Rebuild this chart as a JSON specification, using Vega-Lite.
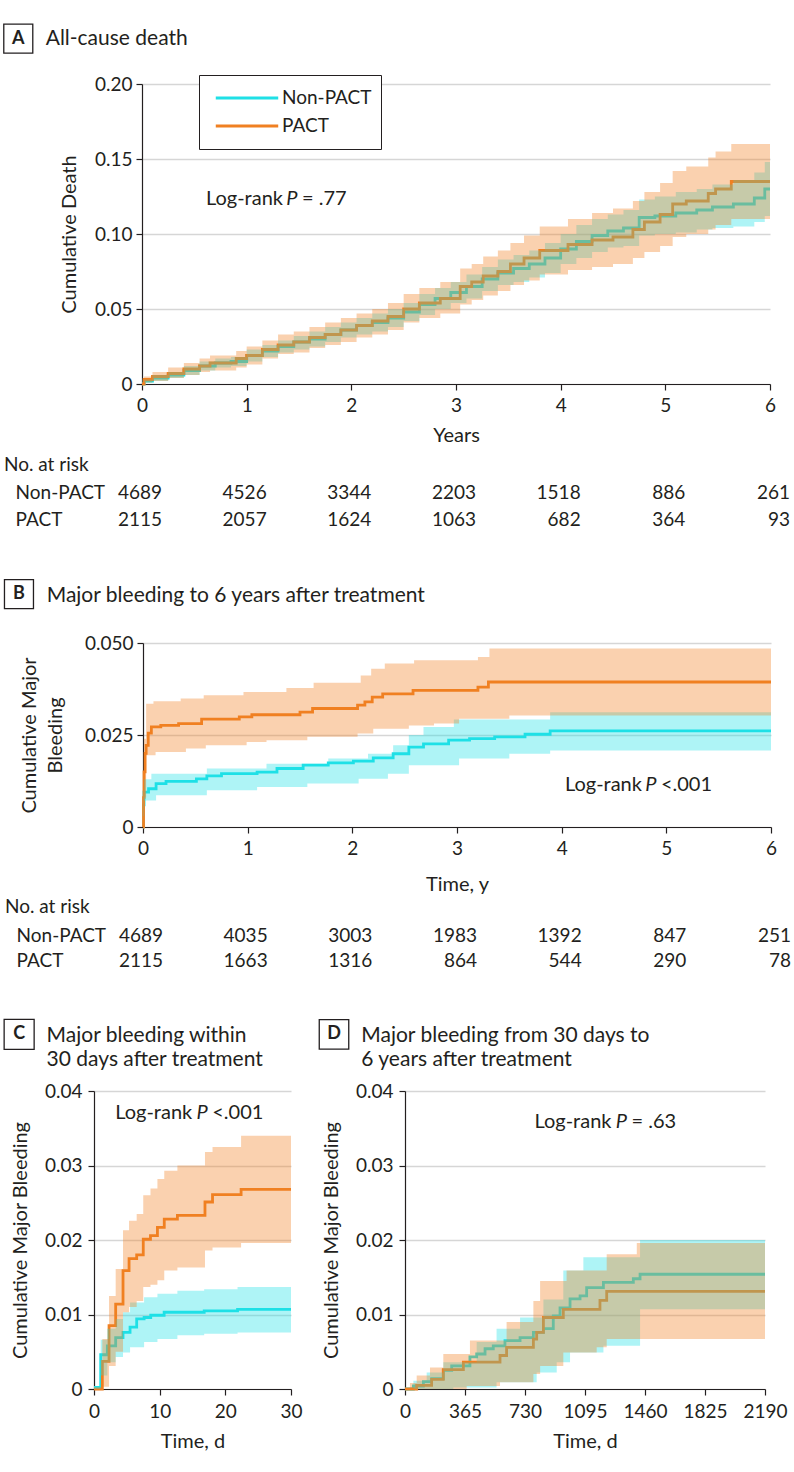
{
"$schema": "https://vega.github.io/schema/vega-lite/v6.json",
"padding": {"top": 21, "left": 0, "right": 4, "bottom": 4},
"config": {
  "font": "Lato",
  "view": {"stroke": null},
  "text": {"font": "Lato", "color": "#231f20"},
  "axis": {"labelFont": "Lato", "labelFontSize": 19, "labelColor": "#231f20", "titleFont": "Lato", "titleFontSize": 20, "titleFontWeight": "normal", "titleColor": "#231f20", "domainColor": "#231f20", "domainWidth": 1.2, "tickColor": "#231f20", "tickWidth": 1.2, "tickSize": 6, "gridColor": "#d6d6d6", "gridWidth": 1.5, "labelFlush": false, "labelOverlap": false},
  "axisX": {"grid": false},
  "axisY": {"grid": true}
},
"datasets": {
  "lines": [
    {"p":"A","g":"Non-PACT","t":0,"v":0},{"p":"A","g":"Non-PACT","t":0.02,"v":0.002},{"p":"A","g":"Non-PACT","t":0.1,"v":0.004},{"p":"A","g":"Non-PACT","t":0.25,"v":0.006},{"p":"A","g":"Non-PACT","t":0.4,"v":0.009},{"p":"A","g":"Non-PACT","t":0.55,"v":0.012},{"p":"A","g":"Non-PACT","t":0.7,"v":0.014},{"p":"A","g":"Non-PACT","t":0.85,"v":0.015},{"p":"A","g":"Non-PACT","t":1.0,"v":0.019},{"p":"A","g":"Non-PACT","t":1.15,"v":0.022},{"p":"A","g":"Non-PACT","t":1.3,"v":0.025},{"p":"A","g":"Non-PACT","t":1.45,"v":0.028},{"p":"A","g":"Non-PACT","t":1.6,"v":0.030},{"p":"A","g":"Non-PACT","t":1.75,"v":0.033},{"p":"A","g":"Non-PACT","t":1.9,"v":0.036},{"p":"A","g":"Non-PACT","t":2.05,"v":0.039},{"p":"A","g":"Non-PACT","t":2.2,"v":0.041},{"p":"A","g":"Non-PACT","t":2.35,"v":0.044},{"p":"A","g":"Non-PACT","t":2.5,"v":0.048},{"p":"A","g":"Non-PACT","t":2.65,"v":0.053},{"p":"A","g":"Non-PACT","t":2.8,"v":0.057},{"p":"A","g":"Non-PACT","t":2.95,"v":0.061},{"p":"A","g":"Non-PACT","t":3.1,"v":0.065},{"p":"A","g":"Non-PACT","t":3.25,"v":0.070},{"p":"A","g":"Non-PACT","t":3.4,"v":0.074},{"p":"A","g":"Non-PACT","t":3.55,"v":0.077},{"p":"A","g":"Non-PACT","t":3.7,"v":0.080},{"p":"A","g":"Non-PACT","t":3.85,"v":0.084},{"p":"A","g":"Non-PACT","t":4.0,"v":0.090},{"p":"A","g":"Non-PACT","t":4.15,"v":0.095},{"p":"A","g":"Non-PACT","t":4.3,"v":0.099},{"p":"A","g":"Non-PACT","t":4.45,"v":0.102},{"p":"A","g":"Non-PACT","t":4.6,"v":0.104},{"p":"A","g":"Non-PACT","t":4.75,"v":0.111},{"p":"A","g":"Non-PACT","t":4.9,"v":0.112},{"p":"A","g":"Non-PACT","t":5.1,"v":0.114},{"p":"A","g":"Non-PACT","t":5.3,"v":0.116},{"p":"A","g":"Non-PACT","t":5.45,"v":0.118},{"p":"A","g":"Non-PACT","t":5.65,"v":0.120},{"p":"A","g":"Non-PACT","t":5.85,"v":0.124},{"p":"A","g":"Non-PACT","t":5.95,"v":0.130},{"p":"A","g":"Non-PACT","t":6.0,"v":0.130},
    {"p":"A","g":"PACT","t":0,"v":0},{"p":"A","g":"PACT","t":0.02,"v":0.003},{"p":"A","g":"PACT","t":0.1,"v":0.005},{"p":"A","g":"PACT","t":0.25,"v":0.007},{"p":"A","g":"PACT","t":0.4,"v":0.010},{"p":"A","g":"PACT","t":0.55,"v":0.012},{"p":"A","g":"PACT","t":0.65,"v":0.014},{"p":"A","g":"PACT","t":0.9,"v":0.017},{"p":"A","g":"PACT","t":1.0,"v":0.019},{"p":"A","g":"PACT","t":1.15,"v":0.023},{"p":"A","g":"PACT","t":1.3,"v":0.026},{"p":"A","g":"PACT","t":1.45,"v":0.028},{"p":"A","g":"PACT","t":1.6,"v":0.031},{"p":"A","g":"PACT","t":1.75,"v":0.033},{"p":"A","g":"PACT","t":1.9,"v":0.036},{"p":"A","g":"PACT","t":2.05,"v":0.039},{"p":"A","g":"PACT","t":2.2,"v":0.042},{"p":"A","g":"PACT","t":2.35,"v":0.045},{"p":"A","g":"PACT","t":2.5,"v":0.050},{"p":"A","g":"PACT","t":2.65,"v":0.054},{"p":"A","g":"PACT","t":2.85,"v":0.057},{"p":"A","g":"PACT","t":3.04,"v":0.065},{"p":"A","g":"PACT","t":3.15,"v":0.068},{"p":"A","g":"PACT","t":3.26,"v":0.072},{"p":"A","g":"PACT","t":3.4,"v":0.075},{"p":"A","g":"PACT","t":3.52,"v":0.080},{"p":"A","g":"PACT","t":3.65,"v":0.084},{"p":"A","g":"PACT","t":3.8,"v":0.089},{"p":"A","g":"PACT","t":4.07,"v":0.093},{"p":"A","g":"PACT","t":4.3,"v":0.096},{"p":"A","g":"PACT","t":4.5,"v":0.098},{"p":"A","g":"PACT","t":4.69,"v":0.103},{"p":"A","g":"PACT","t":4.8,"v":0.108},{"p":"A","g":"PACT","t":4.95,"v":0.113},{"p":"A","g":"PACT","t":5.07,"v":0.120},{"p":"A","g":"PACT","t":5.2,"v":0.122},{"p":"A","g":"PACT","t":5.41,"v":0.127},{"p":"A","g":"PACT","t":5.48,"v":0.130},{"p":"A","g":"PACT","t":5.63,"v":0.135},{"p":"A","g":"PACT","t":6.0,"v":0.135},
    {"p":"B","g":"Non-PACT","t":0,"v":0},{"p":"B","g":"Non-PACT","t":0.005,"v":0.006},{"p":"B","g":"Non-PACT","t":0.01,"v":0.0095},{"p":"B","g":"Non-PACT","t":0.053,"v":0.0104},{"p":"B","g":"Non-PACT","t":0.125,"v":0.0118},{"p":"B","g":"Non-PACT","t":0.22,"v":0.0124},{"p":"B","g":"Non-PACT","t":0.51,"v":0.0131},{"p":"B","g":"Non-PACT","t":0.61,"v":0.0139},{"p":"B","g":"Non-PACT","t":0.75,"v":0.0145},{"p":"B","g":"Non-PACT","t":1.09,"v":0.0149},{"p":"B","g":"Non-PACT","t":1.28,"v":0.0159},{"p":"B","g":"Non-PACT","t":1.53,"v":0.0168},{"p":"B","g":"Non-PACT","t":1.77,"v":0.0174},{"p":"B","g":"Non-PACT","t":2.01,"v":0.0179},{"p":"B","g":"Non-PACT","t":2.2,"v":0.0188},{"p":"B","g":"Non-PACT","t":2.39,"v":0.0199},{"p":"B","g":"Non-PACT","t":2.54,"v":0.0217},{"p":"B","g":"Non-PACT","t":2.68,"v":0.0226},{"p":"B","g":"Non-PACT","t":2.92,"v":0.0236},{"p":"B","g":"Non-PACT","t":3.12,"v":0.024},{"p":"B","g":"Non-PACT","t":3.36,"v":0.0245},{"p":"B","g":"Non-PACT","t":3.65,"v":0.0252},{"p":"B","g":"Non-PACT","t":3.89,"v":0.0261},{"p":"B","g":"Non-PACT","t":6.0,"v":0.0261},
    {"p":"B","g":"PACT","t":0,"v":0},{"p":"B","g":"PACT","t":0.005,"v":0.008},{"p":"B","g":"PACT","t":0.01,"v":0.015},{"p":"B","g":"PACT","t":0.02,"v":0.020},{"p":"B","g":"PACT","t":0.03,"v":0.0222},{"p":"B","g":"PACT","t":0.05,"v":0.0255},{"p":"B","g":"PACT","t":0.08,"v":0.0272},{"p":"B","g":"PACT","t":0.17,"v":0.0276},{"p":"B","g":"PACT","t":0.34,"v":0.0281},{"p":"B","g":"PACT","t":0.56,"v":0.0293},{"p":"B","g":"PACT","t":0.92,"v":0.0299},{"p":"B","g":"PACT","t":1.04,"v":0.0305},{"p":"B","g":"PACT","t":1.5,"v":0.0312},{"p":"B","g":"PACT","t":1.62,"v":0.0322},{"p":"B","g":"PACT","t":2.05,"v":0.0331},{"p":"B","g":"PACT","t":2.12,"v":0.034},{"p":"B","g":"PACT","t":2.19,"v":0.0353},{"p":"B","g":"PACT","t":2.29,"v":0.0362},{"p":"B","g":"PACT","t":2.58,"v":0.0371},{"p":"B","g":"PACT","t":3.2,"v":0.038},{"p":"B","g":"PACT","t":3.3,"v":0.0394},{"p":"B","g":"PACT","t":6.0,"v":0.0394},
    {"p":"C","g":"Non-PACT","t":0,"v":0.0002},{"p":"C","g":"Non-PACT","t":1.02,"v":0.0046},{"p":"C","g":"Non-PACT","t":2.03,"v":0.0058},{"p":"C","g":"Non-PACT","t":3.3,"v":0.0069},{"p":"C","g":"Non-PACT","t":4.42,"v":0.0076},{"p":"C","g":"Non-PACT","t":5.49,"v":0.0083},{"p":"C","g":"Non-PACT","t":6.5,"v":0.0094},{"p":"C","g":"Non-PACT","t":7.63,"v":0.0096},{"p":"C","g":"Non-PACT","t":8.64,"v":0.0099},{"p":"C","g":"Non-PACT","t":10.68,"v":0.0103},{"p":"C","g":"Non-PACT","t":16.78,"v":0.0105},{"p":"C","g":"Non-PACT","t":21.86,"v":0.0107},{"p":"C","g":"Non-PACT","t":30,"v":0.0107},
    {"p":"C","g":"PACT","t":0,"v":0},{"p":"C","g":"PACT","t":1.27,"v":0.0037},{"p":"C","g":"PACT","t":2.29,"v":0.0085},{"p":"C","g":"PACT","t":3.3,"v":0.0114},{"p":"C","g":"PACT","t":4.42,"v":0.0159},{"p":"C","g":"PACT","t":5.34,"v":0.0175},{"p":"C","g":"PACT","t":6.5,"v":0.018},{"p":"C","g":"PACT","t":7.5,"v":0.0201},{"p":"C","g":"PACT","t":8.6,"v":0.0206},{"p":"C","g":"PACT","t":9.66,"v":0.0217},{"p":"C","g":"PACT","t":10.7,"v":0.0228},{"p":"C","g":"PACT","t":12.7,"v":0.0233},{"p":"C","g":"PACT","t":16.9,"v":0.0251},{"p":"C","g":"PACT","t":18.05,"v":0.0261},{"p":"C","g":"PACT","t":22.4,"v":0.0268},{"p":"C","g":"PACT","t":30,"v":0.0268},
    {"p":"D","g":"Non-PACT","t":0,"v":0},{"p":"D","g":"Non-PACT","t":51,"v":0.0004},{"p":"D","g":"Non-PACT","t":112,"v":0.001},{"p":"D","g":"Non-PACT","t":162,"v":0.0014},{"p":"D","g":"Non-PACT","t":233,"v":0.0025},{"p":"D","g":"Non-PACT","t":284,"v":0.0031},{"p":"D","g":"Non-PACT","t":395,"v":0.0043},{"p":"D","g":"Non-PACT","t":436,"v":0.0047},{"p":"D","g":"Non-PACT","t":487,"v":0.0054},{"p":"D","g":"Non-PACT","t":537,"v":0.0058},{"p":"D","g":"Non-PACT","t":608,"v":0.0065},{"p":"D","g":"Non-PACT","t":700,"v":0.0069},{"p":"D","g":"Non-PACT","t":781,"v":0.0076},{"p":"D","g":"Non-PACT","t":842,"v":0.0081},{"p":"D","g":"Non-PACT","t":902,"v":0.0098},{"p":"D","g":"Non-PACT","t":943,"v":0.0109},{"p":"D","g":"Non-PACT","t":1004,"v":0.0121},{"p":"D","g":"Non-PACT","t":1065,"v":0.0125},{"p":"D","g":"Non-PACT","t":1105,"v":0.0136},{"p":"D","g":"Non-PACT","t":1207,"v":0.0143},{"p":"D","g":"Non-PACT","t":1389,"v":0.0148},{"p":"D","g":"Non-PACT","t":1430,"v":0.0154},{"p":"D","g":"Non-PACT","t":2190,"v":0.0154},
    {"p":"D","g":"PACT","t":0,"v":0},{"p":"D","g":"PACT","t":71,"v":0.0005},{"p":"D","g":"PACT","t":162,"v":0.0013},{"p":"D","g":"PACT","t":233,"v":0.0026},{"p":"D","g":"PACT","t":355,"v":0.0036},{"p":"D","g":"PACT","t":578,"v":0.0045},{"p":"D","g":"PACT","t":618,"v":0.0056},{"p":"D","g":"PACT","t":781,"v":0.0067},{"p":"D","g":"PACT","t":801,"v":0.0076},{"p":"D","g":"PACT","t":842,"v":0.0096},{"p":"D","g":"PACT","t":963,"v":0.0107},{"p":"D","g":"PACT","t":1186,"v":0.0119},{"p":"D","g":"PACT","t":1227,"v":0.0131},{"p":"D","g":"PACT","t":2190,"v":0.0131}
  ],
  "bands": [
    {"p":"A","g":"Non-PACT","t":0,"lo":0,"hi":0},{"p":"A","g":"Non-PACT","t":0.02,"lo":0.001,"hi":0.003},{"p":"A","g":"Non-PACT","t":0.1,"lo":0.002,"hi":0.006},{"p":"A","g":"Non-PACT","t":0.25,"lo":0.004,"hi":0.008},{"p":"A","g":"Non-PACT","t":0.4,"lo":0.006,"hi":0.012},{"p":"A","g":"Non-PACT","t":0.55,"lo":0.009,"hi":0.015},{"p":"A","g":"Non-PACT","t":0.7,"lo":0.011,"hi":0.017},{"p":"A","g":"Non-PACT","t":0.85,"lo":0.012,"hi":0.018},{"p":"A","g":"Non-PACT","t":1.0,"lo":0.015,"hi":0.023},{"p":"A","g":"Non-PACT","t":1.15,"lo":0.018,"hi":0.026},{"p":"A","g":"Non-PACT","t":1.3,"lo":0.021,"hi":0.029},{"p":"A","g":"Non-PACT","t":1.45,"lo":0.023,"hi":0.032},{"p":"A","g":"Non-PACT","t":1.6,"lo":0.025,"hi":0.035},{"p":"A","g":"Non-PACT","t":1.75,"lo":0.028,"hi":0.038},{"p":"A","g":"Non-PACT","t":1.9,"lo":0.031,"hi":0.041},{"p":"A","g":"Non-PACT","t":2.05,"lo":0.033,"hi":0.044},{"p":"A","g":"Non-PACT","t":2.2,"lo":0.035,"hi":0.047},{"p":"A","g":"Non-PACT","t":2.35,"lo":0.038,"hi":0.050},{"p":"A","g":"Non-PACT","t":2.5,"lo":0.042,"hi":0.054},{"p":"A","g":"Non-PACT","t":2.65,"lo":0.046,"hi":0.060},{"p":"A","g":"Non-PACT","t":2.8,"lo":0.050,"hi":0.064},{"p":"A","g":"Non-PACT","t":2.95,"lo":0.054,"hi":0.068},{"p":"A","g":"Non-PACT","t":3.1,"lo":0.057,"hi":0.073},{"p":"A","g":"Non-PACT","t":3.25,"lo":0.062,"hi":0.078},{"p":"A","g":"Non-PACT","t":3.4,"lo":0.066,"hi":0.083},{"p":"A","g":"Non-PACT","t":3.55,"lo":0.068,"hi":0.086},{"p":"A","g":"Non-PACT","t":3.7,"lo":0.071,"hi":0.089},{"p":"A","g":"Non-PACT","t":3.85,"lo":0.074,"hi":0.094},{"p":"A","g":"Non-PACT","t":4.0,"lo":0.080,"hi":0.100},{"p":"A","g":"Non-PACT","t":4.15,"lo":0.084,"hi":0.106},{"p":"A","g":"Non-PACT","t":4.3,"lo":0.088,"hi":0.110},{"p":"A","g":"Non-PACT","t":4.45,"lo":0.091,"hi":0.113},{"p":"A","g":"Non-PACT","t":4.6,"lo":0.092,"hi":0.116},{"p":"A","g":"Non-PACT","t":4.75,"lo":0.099,"hi":0.123},{"p":"A","g":"Non-PACT","t":4.9,"lo":0.100,"hi":0.125},{"p":"A","g":"Non-PACT","t":5.1,"lo":0.101,"hi":0.128},{"p":"A","g":"Non-PACT","t":5.3,"lo":0.103,"hi":0.130},{"p":"A","g":"Non-PACT","t":5.45,"lo":0.104,"hi":0.133},{"p":"A","g":"Non-PACT","t":5.65,"lo":0.105,"hi":0.136},{"p":"A","g":"Non-PACT","t":5.85,"lo":0.108,"hi":0.141},{"p":"A","g":"Non-PACT","t":5.95,"lo":0.112,"hi":0.148},{"p":"A","g":"Non-PACT","t":6.0,"lo":0.112,"hi":0.148},
    {"p":"A","g":"PACT","t":0,"lo":0,"hi":0},{"p":"A","g":"PACT","t":0.02,"lo":0.001,"hi":0.005},{"p":"A","g":"PACT","t":0.1,"lo":0.002,"hi":0.008},{"p":"A","g":"PACT","t":0.25,"lo":0.004,"hi":0.011},{"p":"A","g":"PACT","t":0.4,"lo":0.006,"hi":0.014},{"p":"A","g":"PACT","t":0.55,"lo":0.008,"hi":0.017},{"p":"A","g":"PACT","t":0.65,"lo":0.009,"hi":0.019},{"p":"A","g":"PACT","t":0.9,"lo":0.011,"hi":0.022},{"p":"A","g":"PACT","t":1.0,"lo":0.013,"hi":0.025},{"p":"A","g":"PACT","t":1.15,"lo":0.017,"hi":0.029},{"p":"A","g":"PACT","t":1.3,"lo":0.020,"hi":0.033},{"p":"A","g":"PACT","t":1.45,"lo":0.021,"hi":0.035},{"p":"A","g":"PACT","t":1.6,"lo":0.024,"hi":0.038},{"p":"A","g":"PACT","t":1.75,"lo":0.026,"hi":0.041},{"p":"A","g":"PACT","t":1.9,"lo":0.028,"hi":0.044},{"p":"A","g":"PACT","t":2.05,"lo":0.031,"hi":0.047},{"p":"A","g":"PACT","t":2.2,"lo":0.033,"hi":0.050},{"p":"A","g":"PACT","t":2.35,"lo":0.036,"hi":0.054},{"p":"A","g":"PACT","t":2.5,"lo":0.041,"hi":0.060},{"p":"A","g":"PACT","t":2.65,"lo":0.044,"hi":0.064},{"p":"A","g":"PACT","t":2.85,"lo":0.047,"hi":0.068},{"p":"A","g":"PACT","t":3.04,"lo":0.053,"hi":0.077},{"p":"A","g":"PACT","t":3.15,"lo":0.056,"hi":0.080},{"p":"A","g":"PACT","t":3.26,"lo":0.059,"hi":0.085},{"p":"A","g":"PACT","t":3.4,"lo":0.062,"hi":0.089},{"p":"A","g":"PACT","t":3.52,"lo":0.066,"hi":0.094},{"p":"A","g":"PACT","t":3.65,"lo":0.069,"hi":0.099},{"p":"A","g":"PACT","t":3.8,"lo":0.073,"hi":0.105},{"p":"A","g":"PACT","t":4.07,"lo":0.076,"hi":0.110},{"p":"A","g":"PACT","t":4.3,"lo":0.078,"hi":0.114},{"p":"A","g":"PACT","t":4.5,"lo":0.080,"hi":0.117},{"p":"A","g":"PACT","t":4.69,"lo":0.084,"hi":0.122},{"p":"A","g":"PACT","t":4.8,"lo":0.088,"hi":0.128},{"p":"A","g":"PACT","t":4.95,"lo":0.092,"hi":0.134},{"p":"A","g":"PACT","t":5.07,"lo":0.098,"hi":0.142},{"p":"A","g":"PACT","t":5.2,"lo":0.100,"hi":0.145},{"p":"A","g":"PACT","t":5.41,"lo":0.103,"hi":0.151},{"p":"A","g":"PACT","t":5.48,"lo":0.106,"hi":0.155},{"p":"A","g":"PACT","t":5.63,"lo":0.110,"hi":0.160},{"p":"A","g":"PACT","t":6.0,"lo":0.110,"hi":0.160},
    {"p":"B","g":"Non-PACT","t":0,"lo":0,"hi":0},{"p":"B","g":"Non-PACT","t":0.005,"lo":0.003,"hi":0.01},{"p":"B","g":"Non-PACT","t":0.01,"lo":0.0072,"hi":0.013},{"p":"B","g":"Non-PACT","t":0.08,"lo":0.0072,"hi":0.0145},{"p":"B","g":"Non-PACT","t":0.125,"lo":0.0086,"hi":0.0145},{"p":"B","g":"Non-PACT","t":0.61,"lo":0.01,"hi":0.0159},{"p":"B","g":"Non-PACT","t":1.09,"lo":0.0109,"hi":0.0159},{"p":"B","g":"Non-PACT","t":1.18,"lo":0.0109,"hi":0.0172},{"p":"B","g":"Non-PACT","t":1.57,"lo":0.0118,"hi":0.0172},{"p":"B","g":"Non-PACT","t":1.77,"lo":0.0118,"hi":0.0186},{"p":"B","g":"Non-PACT","t":2.06,"lo":0.0131,"hi":0.0186},{"p":"B","g":"Non-PACT","t":2.15,"lo":0.0131,"hi":0.0199},{"p":"B","g":"Non-PACT","t":2.34,"lo":0.0145,"hi":0.0199},{"p":"B","g":"Non-PACT","t":2.39,"lo":0.0145,"hi":0.0222},{"p":"B","g":"Non-PACT","t":2.54,"lo":0.0168,"hi":0.025},{"p":"B","g":"Non-PACT","t":2.68,"lo":0.0168,"hi":0.0272},{"p":"B","g":"Non-PACT","t":2.97,"lo":0.0168,"hi":0.0292},{"p":"B","g":"Non-PACT","t":3.02,"lo":0.0186,"hi":0.0292},{"p":"B","g":"Non-PACT","t":3.5,"lo":0.0199,"hi":0.0292},{"p":"B","g":"Non-PACT","t":3.89,"lo":0.0208,"hi":0.0312},{"p":"B","g":"Non-PACT","t":6.0,"lo":0.0208,"hi":0.0312},
    {"p":"B","g":"PACT","t":0,"lo":0,"hi":0},{"p":"B","g":"PACT","t":0.01,"lo":0.008,"hi":0.024},{"p":"B","g":"PACT","t":0.03,"lo":0.0195,"hi":0.0335},{"p":"B","g":"PACT","t":0.1,"lo":0.0195,"hi":0.0342},{"p":"B","g":"PACT","t":0.12,"lo":0.0204,"hi":0.0342},{"p":"B","g":"PACT","t":0.36,"lo":0.0204,"hi":0.0349},{"p":"B","g":"PACT","t":0.41,"lo":0.0213,"hi":0.0349},{"p":"B","g":"PACT","t":0.58,"lo":0.0213,"hi":0.0358},{"p":"B","g":"PACT","t":0.6,"lo":0.0222,"hi":0.0358},{"p":"B","g":"PACT","t":0.96,"lo":0.0222,"hi":0.0367},{"p":"B","g":"PACT","t":0.99,"lo":0.0231,"hi":0.0367},{"p":"B","g":"PACT","t":1.18,"lo":0.0236,"hi":0.0367},{"p":"B","g":"PACT","t":1.37,"lo":0.0236,"hi":0.0378},{"p":"B","g":"PACT","t":1.57,"lo":0.0245,"hi":0.0378},{"p":"B","g":"PACT","t":1.63,"lo":0.0245,"hi":0.0392},{"p":"B","g":"PACT","t":2.05,"lo":0.0254,"hi":0.0392},{"p":"B","g":"PACT","t":2.08,"lo":0.0254,"hi":0.0412},{"p":"B","g":"PACT","t":2.18,"lo":0.0254,"hi":0.043},{"p":"B","g":"PACT","t":2.2,"lo":0.0267,"hi":0.043},{"p":"B","g":"PACT","t":2.31,"lo":0.0267,"hi":0.0444},{"p":"B","g":"PACT","t":2.54,"lo":0.0276,"hi":0.0444},{"p":"B","g":"PACT","t":2.59,"lo":0.0276,"hi":0.0453},{"p":"B","g":"PACT","t":2.78,"lo":0.0281,"hi":0.0453},{"p":"B","g":"PACT","t":3.02,"lo":0.0294,"hi":0.0453},{"p":"B","g":"PACT","t":3.2,"lo":0.0294,"hi":0.0462},{"p":"B","g":"PACT","t":3.31,"lo":0.0294,"hi":0.0485},{"p":"B","g":"PACT","t":3.5,"lo":0.0303,"hi":0.0485},{"p":"B","g":"PACT","t":6.0,"lo":0.0303,"hi":0.0485},
    {"p":"C","g":"Non-PACT","t":0,"lo":0,"hi":0.0004},{"p":"C","g":"Non-PACT","t":1.02,"lo":0.0018,"hi":0.0066},{"p":"C","g":"Non-PACT","t":2.03,"lo":0.0036,"hi":0.0081},{"p":"C","g":"Non-PACT","t":3.3,"lo":0.0043,"hi":0.0094},{"p":"C","g":"Non-PACT","t":4.42,"lo":0.0049,"hi":0.0103},{"p":"C","g":"Non-PACT","t":5.49,"lo":0.0056,"hi":0.0116},{"p":"C","g":"Non-PACT","t":7.63,"lo":0.0063,"hi":0.0123},{"p":"C","g":"Non-PACT","t":9.66,"lo":0.0067,"hi":0.0128},{"p":"C","g":"Non-PACT","t":12.7,"lo":0.0072,"hi":0.0132},{"p":"C","g":"Non-PACT","t":16.78,"lo":0.0074,"hi":0.0134},{"p":"C","g":"Non-PACT","t":21.86,"lo":0.0076,"hi":0.0137},{"p":"C","g":"Non-PACT","t":30,"lo":0.0076,"hi":0.0137},
    {"p":"C","g":"PACT","t":0,"lo":0,"hi":0},{"p":"C","g":"PACT","t":1.27,"lo":0.0003,"hi":0.0067},{"p":"C","g":"PACT","t":2.29,"lo":0.0031,"hi":0.0125},{"p":"C","g":"PACT","t":3.3,"lo":0.005,"hi":0.0161},{"p":"C","g":"PACT","t":4.42,"lo":0.0103,"hi":0.0213},{"p":"C","g":"PACT","t":5.34,"lo":0.011,"hi":0.0226},{"p":"C","g":"PACT","t":6.5,"lo":0.0118,"hi":0.0235},{"p":"C","g":"PACT","t":7.5,"lo":0.0137,"hi":0.026},{"p":"C","g":"PACT","t":8.6,"lo":0.014,"hi":0.0269},{"p":"C","g":"PACT","t":9.66,"lo":0.0146,"hi":0.0282},{"p":"C","g":"PACT","t":10.7,"lo":0.0159,"hi":0.0293},{"p":"C","g":"PACT","t":12.7,"lo":0.0163,"hi":0.030},{"p":"C","g":"PACT","t":16.9,"lo":0.0186,"hi":0.0318},{"p":"C","g":"PACT","t":18.05,"lo":0.019,"hi":0.0325},{"p":"C","g":"PACT","t":22.4,"lo":0.0196,"hi":0.034},{"p":"C","g":"PACT","t":30,"lo":0.0196,"hi":0.034},
    {"p":"D","g":"Non-PACT","t":0,"lo":0,"hi":0},{"p":"D","g":"Non-PACT","t":51,"lo":0,"hi":0.0011},{"p":"D","g":"Non-PACT","t":132,"lo":0,"hi":0.0022},{"p":"D","g":"Non-PACT","t":233,"lo":0,"hi":0.0036},{"p":"D","g":"Non-PACT","t":294,"lo":0.0002,"hi":0.0036},{"p":"D","g":"Non-PACT","t":436,"lo":0.0002,"hi":0.0063},{"p":"D","g":"Non-PACT","t":557,"lo":0.0009,"hi":0.0081},{"p":"D","g":"Non-PACT","t":700,"lo":0.0009,"hi":0.0096},{"p":"D","g":"Non-PACT","t":801,"lo":0.0022,"hi":0.0096},{"p":"D","g":"Non-PACT","t":842,"lo":0.0022,"hi":0.012},{"p":"D","g":"Non-PACT","t":923,"lo":0.0036,"hi":0.012},{"p":"D","g":"Non-PACT","t":963,"lo":0.0036,"hi":0.0159},{"p":"D","g":"Non-PACT","t":1004,"lo":0.0049,"hi":0.0159},{"p":"D","g":"Non-PACT","t":1085,"lo":0.0049,"hi":0.0177},{"p":"D","g":"Non-PACT","t":1207,"lo":0.0058,"hi":0.0177},{"p":"D","g":"Non-PACT","t":1430,"lo":0.0107,"hi":0.02},{"p":"D","g":"Non-PACT","t":2190,"lo":0.0107,"hi":0.02},
    {"p":"D","g":"PACT","t":0,"lo":0,"hi":0},{"p":"D","g":"PACT","t":30,"lo":0,"hi":0.0008},{"p":"D","g":"PACT","t":71,"lo":0,"hi":0.0018},{"p":"D","g":"PACT","t":152,"lo":0,"hi":0.0029},{"p":"D","g":"PACT","t":233,"lo":0,"hi":0.0047},{"p":"D","g":"PACT","t":375,"lo":0.0004,"hi":0.0047},{"p":"D","g":"PACT","t":395,"lo":0.0004,"hi":0.0065},{"p":"D","g":"PACT","t":578,"lo":0.0009,"hi":0.0065},{"p":"D","g":"PACT","t":618,"lo":0.0009,"hi":0.009},{"p":"D","g":"PACT","t":781,"lo":0.002,"hi":0.0118},{"p":"D","g":"PACT","t":822,"lo":0.0031,"hi":0.0145},{"p":"D","g":"PACT","t":963,"lo":0.0049,"hi":0.0145},{"p":"D","g":"PACT","t":983,"lo":0.0049,"hi":0.0159},{"p":"D","g":"PACT","t":1166,"lo":0.0056,"hi":0.0159},{"p":"D","g":"PACT","t":1227,"lo":0.0067,"hi":0.0181},{"p":"D","g":"PACT","t":1410,"lo":0.0067,"hi":0.0196},{"p":"D","g":"PACT","t":2190,"lo":0.0067,"hi":0.0196}
  ],
  "risk": [
    {"p":"A","g":"Non-PACT","t":0,"n":4689},{"p":"A","g":"Non-PACT","t":1,"n":4526},{"p":"A","g":"Non-PACT","t":2,"n":3344},{"p":"A","g":"Non-PACT","t":3,"n":2203},{"p":"A","g":"Non-PACT","t":4,"n":1518},{"p":"A","g":"Non-PACT","t":5,"n":886},{"p":"A","g":"Non-PACT","t":6,"n":261},
    {"p":"A","g":"PACT","t":0,"n":2115},{"p":"A","g":"PACT","t":1,"n":2057},{"p":"A","g":"PACT","t":2,"n":1624},{"p":"A","g":"PACT","t":3,"n":1063},{"p":"A","g":"PACT","t":4,"n":682},{"p":"A","g":"PACT","t":5,"n":364},{"p":"A","g":"PACT","t":6,"n":93},
    {"p":"B","g":"Non-PACT","t":0,"n":4689},{"p":"B","g":"Non-PACT","t":1,"n":4035},{"p":"B","g":"Non-PACT","t":2,"n":3003},{"p":"B","g":"Non-PACT","t":3,"n":1983},{"p":"B","g":"Non-PACT","t":4,"n":1392},{"p":"B","g":"Non-PACT","t":5,"n":847},{"p":"B","g":"Non-PACT","t":6,"n":251},
    {"p":"B","g":"PACT","t":0,"n":2115},{"p":"B","g":"PACT","t":1,"n":1663},{"p":"B","g":"PACT","t":2,"n":1316},{"p":"B","g":"PACT","t":3,"n":864},{"p":"B","g":"PACT","t":4,"n":544},{"p":"B","g":"PACT","t":5,"n":290},{"p":"B","g":"PACT","t":6,"n":78}
  ]
},
"resolve": {"scale": {"color": "independent"}, "legend": {"color": "independent"}},
"spacing": 45,
"vconcat": [
 {
  "resolve": {"scale": {"color": "independent"}, "legend": {"color": "independent"}},
  "spacing": 0,
  "hconcat": [
   {"width": 1, "height": 1, "data": {"values": [{}]}, "mark": {"type": "text", "text": ""}},
   {
    "width": 628, "height": 300,
    "layer": [
     {"data": {"name": "lines"}, "transform": [{"filter": "datum.p === 'A'"}],
      "mark": {"type": "line", "interpolate": "step-after", "strokeWidth": 2.8},
      "encoding": {
        "x": {"field": "t", "type": "quantitative", "scale": {"domain": [0, 6], "nice": false, "zero": false}, "axis": {"values": [0,1,2,3,4,5,6], "format": "d", "title": "Years", "labelPadding": 6, "titlePadding": 10}},
        "y": {"field": "v", "type": "quantitative", "scale": {"domain": [0, 0.2], "nice": false}, "axis": {"values": [0,0.05,0.1,0.15,0.2], "labelExpr": "datum.value === 0 ? '0' : format(datum.value, '.2f')", "title": "Cumulative Death", "labelPadding": 4, "titlePadding": 15}},
        "color": {"field": "g", "type": "nominal", "scale": {"domain": ["Non-PACT","PACT"], "range": ["#1FE0E6","#F08022"]},
          "legend": {"orient": "none", "legendX": 57, "legendY": -9, "title": null, "symbolType": "stroke", "symbolSize": 3900, "symbolStrokeWidth": 3, "symbolOpacity": 1, "clipHeight": 28, "rowPadding": 0, "padding": 9, "symbolOffset": 6, "labelOffset": 2, "labelFontSize": 19, "labelFont": "Lato", "labelColor": "#231f20", "strokeColor": "#231f20", "fillColor": "white",
            "encode": {"symbols": {"update": {"opacity": {"value": 1}, "strokeOpacity": {"value": 1}, "fillOpacity": {"value": 0}}}}}}
      }},
     {"data": {"name": "bands"}, "transform": [{"filter": "datum.p === 'A'"}],
      "mark": {"type": "area", "interpolate": "step-after", "opacity": 0.36},
      "encoding": {"x": {"field": "t", "type": "quantitative"}, "y": {"field": "lo", "type": "quantitative"}, "y2": {"field": "hi"}, "color": {"field": "g", "type": "nominal", "scale": {"domain": ["Non-PACT","PACT"], "range": ["#1FE0E6","#F08022"]}}}},
     {"data": {"values": [{}]}, "mark": {"type": "point", "shape": "square", "size": 841, "filled": false, "color": "#231f20", "strokeWidth": 1.3, "opacity": 1}, "encoding": {"x": {"datum": -1.182}, "y": {"datum": 0.2302}}},
     {"data": {"values": [{}]}, "mark": {"type": "text", "text": "A", "fontWeight": "bold", "fontSize": 18, "align": "center", "baseline": "middle"}, "encoding": {"x": {"datum": -1.182}, "y": {"datum": 0.2302}}},
     {"data": {"values": [{}]}, "mark": {"type": "text", "text": "All-cause death", "fontSize": 21, "align": "left", "baseline": "middle"}, "encoding": {"x": {"datum": -0.92}, "y": {"datum": 0.2297}}},
     {"data": {"values": [{}]}, "mark": {"type": "text", "text": "Log-rank", "fontSize": 20, "align": "right", "baseline": "middle", "dx": -9}, "encoding": {"x": {"datum": 1.433}, "y": {"datum": 0.1233}}},
     {"data": {"values": [{}]}, "mark": {"type": "text", "text": "P", "fontSize": 20, "fontStyle": "italic", "align": "center", "baseline": "middle"}, "encoding": {"x": {"datum": 1.433}, "y": {"datum": 0.1233}}},
     {"data": {"values": [{}]}, "mark": {"type": "text", "text": "= .77", "fontSize": 20, "align": "left", "baseline": "middle", "dx": 10}, "encoding": {"x": {"datum": 1.433}, "y": {"datum": 0.1233}}},
     {"data": {"values": [{}]}, "mark": {"type": "text", "text": "No. at risk", "fontSize": 19, "align": "left", "baseline": "middle"}, "encoding": {"x": {"datum": -1.319}, "y": {"datum": -0.054}}},
     {"data": {"values": [{}]}, "mark": {"type": "text", "text": "Non-PACT", "fontSize": 19, "align": "left", "baseline": "middle"}, "encoding": {"x": {"datum": -1.208}, "y": {"datum": -0.0729}}},
     {"data": {"values": [{}]}, "mark": {"type": "text", "text": "PACT", "fontSize": 19, "align": "left", "baseline": "middle"}, "encoding": {"x": {"datum": -1.208}, "y": {"datum": -0.0907}}},
     {"data": {"name": "risk"}, "transform": [{"filter": "datum.p === 'A' && datum.g === 'Non-PACT'"}], "mark": {"type": "text", "fontSize": 19, "align": "right", "baseline": "middle", "dx": 20}, "encoding": {"x": {"field": "t", "type": "quantitative"}, "y": {"datum": -0.0729}, "text": {"field": "n", "type": "quantitative", "format": "d"}}},
     {"data": {"name": "risk"}, "transform": [{"filter": "datum.p === 'A' && datum.g === 'PACT'"}], "mark": {"type": "text", "fontSize": 19, "align": "right", "baseline": "middle", "dx": 20}, "encoding": {"x": {"field": "t", "type": "quantitative"}, "y": {"datum": -0.0907}, "text": {"field": "n", "type": "quantitative", "format": "d"}}}
    ]
   }
  ]
 },
 {
  "resolve": {"scale": {"color": "independent"}, "legend": {"color": "independent"}},
  "spacing": 0,
  "hconcat": [
   {"width": 1, "height": 1, "data": {"values": [{}]}, "mark": {"type": "text", "text": ""}},
   {
    "width": 628, "height": 184,
    "layer": [
     {"data": {"name": "lines"}, "transform": [{"filter": "datum.p === 'B'"}],
      "mark": {"type": "line", "interpolate": "step-after", "strokeWidth": 2.8},
      "encoding": {
        "x": {"field": "t", "type": "quantitative", "scale": {"domain": [0, 6], "nice": false, "zero": false}, "axis": {"values": [0,1,2,3,4,5,6], "format": "d", "title": "Time, y", "labelPadding": 6, "titlePadding": 16}},
        "y": {"field": "v", "type": "quantitative", "scale": {"domain": [0, 0.05], "nice": false}, "axis": {"values": [0,0.025,0.05], "labelExpr": "datum.value === 0 ? '0' : format(datum.value, '.3f')", "title": ["Cumulative Major", "Bleeding"], "titleLineHeight": 26, "labelPadding": 4, "titlePadding": 19}},
        "color": {"field": "g", "type": "nominal", "scale": {"domain": ["Non-PACT","PACT"], "range": ["#1FE0E6","#F08022"]}, "legend": null}
      }},
     {"data": {"name": "bands"}, "transform": [{"filter": "datum.p === 'B'"}],
      "mark": {"type": "area", "interpolate": "step-after", "opacity": 0.36},
      "encoding": {"x": {"field": "t", "type": "quantitative"}, "y": {"field": "lo", "type": "quantitative"}, "y2": {"field": "hi"}, "color": {"field": "g", "type": "nominal", "scale": {"domain": ["Non-PACT","PACT"], "range": ["#1FE0E6","#F08022"]}, "legend": null}}},
     {"data": {"values": [{}]}, "mark": {"type": "point", "shape": "square", "size": 841, "filled": false, "color": "#231f20", "strokeWidth": 1.3, "opacity": 1}, "encoding": {"x": {"datum": -1.185}, "y": {"datum": 0.0633}}},
     {"data": {"values": [{}]}, "mark": {"type": "text", "text": "B", "fontWeight": "bold", "fontSize": 18, "align": "center", "baseline": "middle"}, "encoding": {"x": {"datum": -1.185}, "y": {"datum": 0.0633}}},
     {"data": {"values": [{}]}, "mark": {"type": "text", "text": "Major bleeding to 6 years after treatment", "fontSize": 21, "align": "left", "baseline": "middle"}, "encoding": {"x": {"datum": -0.92}, "y": {"datum": 0.0628}}},
     {"data": {"values": [{}]}, "mark": {"type": "text", "text": "Log-rank", "fontSize": 20, "align": "right", "baseline": "middle", "dx": -9}, "encoding": {"x": {"datum": 4.853}, "y": {"datum": 0.0114}}},
     {"data": {"values": [{}]}, "mark": {"type": "text", "text": "P", "fontSize": 20, "fontStyle": "italic", "align": "center", "baseline": "middle"}, "encoding": {"x": {"datum": 4.853}, "y": {"datum": 0.0114}}},
     {"data": {"values": [{}]}, "mark": {"type": "text", "text": "<.001", "fontSize": 20, "align": "left", "baseline": "middle", "dx": 10}, "encoding": {"x": {"datum": 4.853}, "y": {"datum": 0.0114}}},
     {"data": {"values": [{}]}, "mark": {"type": "text", "text": "No. at risk", "fontSize": 19, "align": "left", "baseline": "middle"}, "encoding": {"x": {"datum": -1.319}, "y": {"datum": -0.02174}}},
     {"data": {"values": [{}]}, "mark": {"type": "text", "text": "Non-PACT", "fontSize": 19, "align": "left", "baseline": "middle"}, "encoding": {"x": {"datum": -1.208}, "y": {"datum": -0.02962}}},
     {"data": {"values": [{}]}, "mark": {"type": "text", "text": "PACT", "fontSize": 19, "align": "left", "baseline": "middle"}, "encoding": {"x": {"datum": -1.208}, "y": {"datum": -0.03641}}},
     {"data": {"name": "risk"}, "transform": [{"filter": "datum.p === 'B' && datum.g === 'Non-PACT'"}], "mark": {"type": "text", "fontSize": 19, "align": "right", "baseline": "middle", "dx": 20}, "encoding": {"x": {"field": "t", "type": "quantitative"}, "y": {"datum": -0.02962}, "text": {"field": "n", "type": "quantitative", "format": "d"}}},
     {"data": {"name": "risk"}, "transform": [{"filter": "datum.p === 'B' && datum.g === 'PACT'"}], "mark": {"type": "text", "fontSize": 19, "align": "right", "baseline": "middle", "dx": 20}, "encoding": {"x": {"field": "t", "type": "quantitative"}, "y": {"datum": -0.03641}, "text": {"field": "n", "type": "quantitative", "format": "d"}}}
    ]
   }
  ]
 },
 {
  "resolve": {"scale": {"color": "independent"}, "legend": {"color": "independent"}},
  "spacing": 0,
  "hconcat": [
   {"width": 1, "height": 1, "data": {"values": [{}]}, "mark": {"type": "text", "text": ""}},
   {
  "resolve": {"scale": {"color": "independent"}, "legend": {"color": "independent"}},
  "spacing": 13,
  "hconcat": [
   {
    "width": 197, "height": 298,
    "layer": [
     {"data": {"name": "lines"}, "transform": [{"filter": "datum.p === 'C'"}],
      "mark": {"type": "line", "interpolate": "step-after", "strokeWidth": 2.8},
      "encoding": {
        "x": {"field": "t", "type": "quantitative", "scale": {"domain": [0, 30], "nice": false, "zero": false}, "axis": {"values": [0,10,20,30], "title": "Time, d", "labelPadding": 7, "titlePadding": 10}},
        "y": {"field": "v", "type": "quantitative", "scale": {"domain": [0, 0.04], "nice": false}, "axis": {"values": [0,0.01,0.02,0.03,0.04], "labelExpr": "datum.value === 0 ? '0' : format(datum.value, '.2f')", "title": "Cumulative Major Bleeding", "labelPadding": 6, "titlePadding": 14}},
        "color": {"field": "g", "type": "nominal", "scale": {"domain": ["Non-PACT","PACT"], "range": ["#1FE0E6","#F08022"]}, "legend": null}
      }},
     {"data": {"name": "bands"}, "transform": [{"filter": "datum.p === 'C'"}],
      "mark": {"type": "area", "interpolate": "step-after", "opacity": 0.36},
      "encoding": {"x": {"field": "t", "type": "quantitative"}, "y": {"field": "lo", "type": "quantitative"}, "y2": {"field": "hi"}, "color": {"field": "g", "type": "nominal", "scale": {"domain": ["Non-PACT","PACT"], "range": ["#1FE0E6","#F08022"]}, "legend": null}}},
     {"data": {"values": [{}]}, "mark": {"type": "point", "shape": "square", "size": 900, "filled": false, "color": "#231f20", "strokeWidth": 1.3, "opacity": 1}, "encoding": {"x": {"datum": -11.4}, "y": {"datum": 0.0476}}},
     {"data": {"values": [{}]}, "mark": {"type": "text", "text": "C", "fontWeight": "bold", "fontSize": 18, "align": "center", "baseline": "middle"}, "encoding": {"x": {"datum": -11.4}, "y": {"datum": 0.0476}}},
     {"data": {"values": [{}]}, "mark": {"type": "text", "text": "Major bleeding within", "fontSize": 21, "align": "left", "baseline": "middle"}, "encoding": {"x": {"datum": -7.22}, "y": {"datum": 0.0474}}},
     {"data": {"values": [{}]}, "mark": {"type": "text", "text": "30 days after treatment", "fontSize": 21, "align": "left", "baseline": "middle"}, "encoding": {"x": {"datum": -7.22}, "y": {"datum": 0.0442}}},
     {"data": {"values": [{}]}, "mark": {"type": "text", "text": "Log-rank", "fontSize": 20, "align": "right", "baseline": "middle", "dx": -10}, "encoding": {"x": {"datum": 16.48}, "y": {"datum": 0.0371}}},
     {"data": {"values": [{}]}, "mark": {"type": "text", "text": "P", "fontSize": 20, "fontStyle": "italic", "align": "center", "baseline": "middle"}, "encoding": {"x": {"datum": 16.48}, "y": {"datum": 0.0371}}},
     {"data": {"values": [{}]}, "mark": {"type": "text", "text": "<.001", "fontSize": 20, "align": "left", "baseline": "middle", "dx": 10}, "encoding": {"x": {"datum": 16.48}, "y": {"datum": 0.0371}}}
    ]
   },
   {
    "width": 360, "height": 298,
    "layer": [
     {"data": {"name": "lines"}, "transform": [{"filter": "datum.p === 'D'"}],
      "mark": {"type": "line", "interpolate": "step-after", "strokeWidth": 2.8},
      "encoding": {
        "x": {"field": "t", "type": "quantitative", "scale": {"domain": [0, 2190], "nice": false, "zero": false}, "axis": {"values": [0,365,730,1095,1460,1825,2190], "format": "d", "title": "Time, d", "labelPadding": 7, "titlePadding": 10}},
        "y": {"field": "v", "type": "quantitative", "scale": {"domain": [0, 0.04], "nice": false}, "axis": {"values": [0,0.01,0.02,0.03,0.04], "labelExpr": "datum.value === 0 ? '0' : format(datum.value, '.2f')", "title": "Cumulative Major Bleeding", "labelPadding": 6, "titlePadding": 14}},
        "color": {"field": "g", "type": "nominal", "scale": {"domain": ["Non-PACT","PACT"], "range": ["#1FE0E6","#F08022"]}, "legend": null}
      }},
     {"data": {"name": "bands"}, "transform": [{"filter": "datum.p === 'D'"}],
      "mark": {"type": "area", "interpolate": "step-after", "opacity": 0.36},
      "encoding": {"x": {"field": "t", "type": "quantitative"}, "y": {"field": "lo", "type": "quantitative"}, "y2": {"field": "hi"}, "color": {"field": "g", "type": "nominal", "scale": {"domain": ["Non-PACT","PACT"], "range": ["#1FE0E6","#F08022"]}, "legend": null}}},
     {"data": {"values": [{}]}, "mark": {"type": "point", "shape": "square", "size": 870, "filled": false, "color": "#231f20", "strokeWidth": 1.3, "opacity": 1}, "encoding": {"x": {"datum": -431.9}, "y": {"datum": 0.0476}}},
     {"data": {"values": [{}]}, "mark": {"type": "text", "text": "D", "fontWeight": "bold", "fontSize": 18, "align": "center", "baseline": "middle"}, "encoding": {"x": {"datum": -431.9}, "y": {"datum": 0.0476}}},
     {"data": {"values": [{}]}, "mark": {"type": "text", "text": "Major bleeding from 30 days to", "fontSize": 21, "align": "left", "baseline": "middle"}, "encoding": {"x": {"datum": -265.8}, "y": {"datum": 0.0474}}},
     {"data": {"values": [{}]}, "mark": {"type": "text", "text": "6 years after treatment", "fontSize": 21, "align": "left", "baseline": "middle"}, "encoding": {"x": {"datum": -265.8}, "y": {"datum": 0.0442}}},
     {"data": {"values": [{}]}, "mark": {"type": "text", "text": "Log-rank", "fontSize": 20, "align": "right", "baseline": "middle", "dx": -10}, "encoding": {"x": {"datum": 1317}, "y": {"datum": 0.0359}}},
     {"data": {"values": [{}]}, "mark": {"type": "text", "text": "P", "fontSize": 20, "fontStyle": "italic", "align": "center", "baseline": "middle"}, "encoding": {"x": {"datum": 1317}, "y": {"datum": 0.0359}}},
     {"data": {"values": [{}]}, "mark": {"type": "text", "text": "= .63", "fontSize": 20, "align": "left", "baseline": "middle", "dx": 10}, "encoding": {"x": {"datum": 1317}, "y": {"datum": 0.0359}}}
    ]
   }
  ]
   }
  ]
 }
]
}
